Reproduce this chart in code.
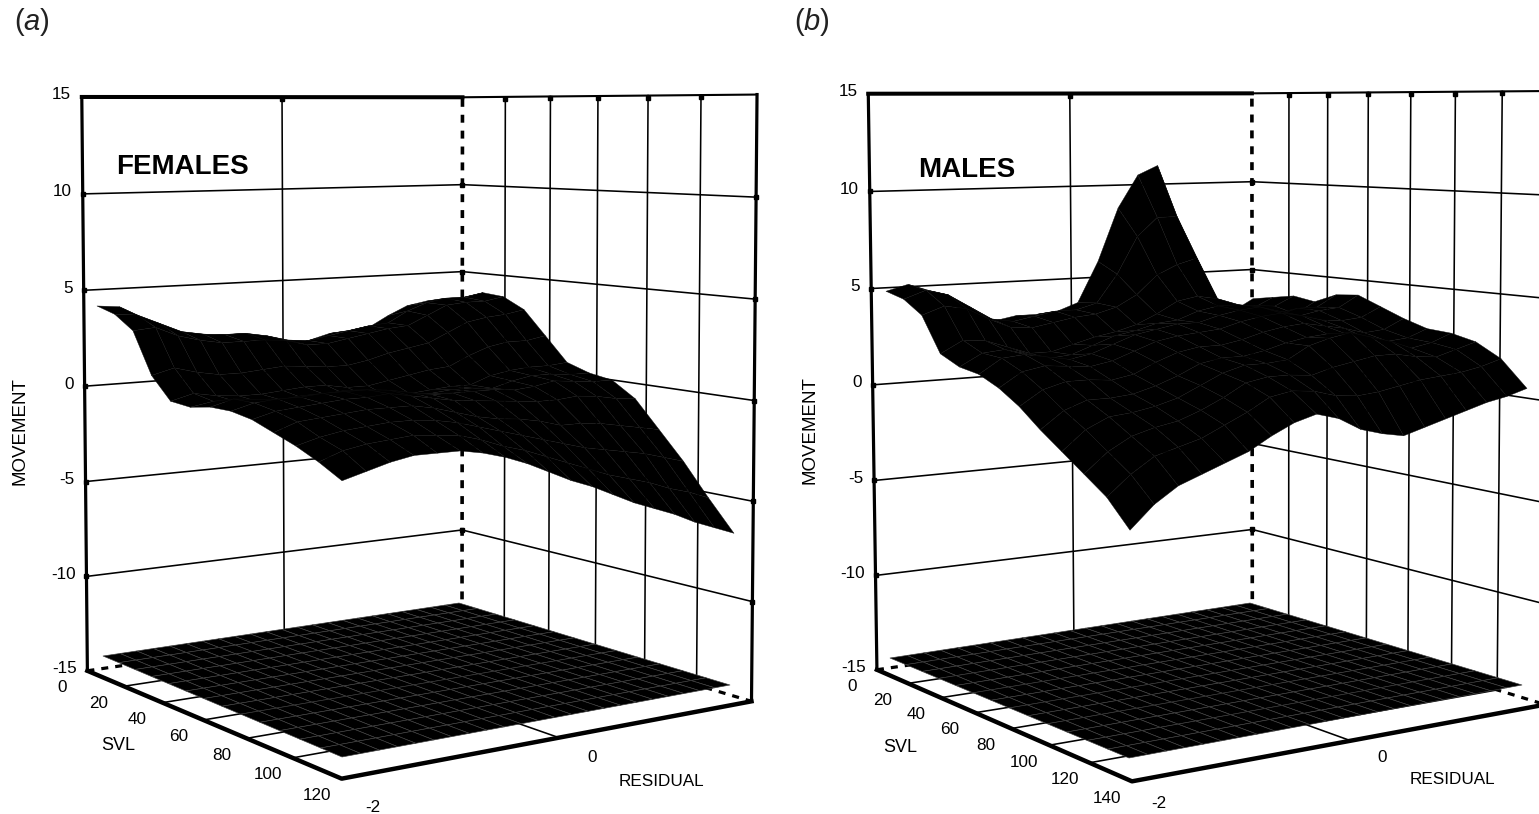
import numpy as np, matplotlib
matplotlib.use("Agg")
import matplotlib.pyplot as plt, seaborn as sns
from matplotlib.collections import PolyCollection

sns.set_style("white")
plt.rcParams['font.family'] = ['Liberation Sans', 'DejaVu Sans']
plt.rcParams['text.color'] = 'black'
plt.rcParams['mathtext.fontset'] = 'custom'
plt.rcParams['mathtext.it'] = 'Liberation Sans:italic'
plt.rcParams['mathtext.rm'] = 'Liberation Sans'

# ---------- chart data ----------
movement_ticks = [15, 10, 5, 0, -5, -10, -15]
svl_ticks_f = [0, 20, 40, 60, 80, 100, 120]
svl_ticks_m = [0, 20, 40, 60, 80, 100, 120, 140]
residual_ticks = [-2, 0]
# rows: SVL from 0 to max; columns: RESIDUAL from -2 to 2
movement_females = np.array([
[3.3,3.2,2.5,1.9,1.6,1.4,1.4,1.1,0.8,0.6,0.8,1.1,1.2,1.3,1.9,2.4,2.6,2.5,2.7],
[3.0,2.9,2.4,1.9,1.7,1.6,1.6,1.4,1.1,1.0,1.2,1.4,1.6,1.7,2.3,2.7,2.9,2.9,3.1],
[2.3,2.4,1.9,1.6,1.4,1.4,1.4,1.3,1.0,1.0,1.2,1.4,1.6,1.7,2.2,2.7,2.8,2.8,3.0],
[0.2,0.5,0.2,-0.0,-0.0,0.1,0.2,0.1,-0.0,-0.0,0.2,0.5,0.7,0.9,1.4,1.9,2.1,2.2,2.4],
[-0.9,-0.6,-0.8,-0.9,-0.9,-0.8,-0.7,-0.7,-0.9,-0.9,-0.7,-0.5,-0.3,-0.2,0.3,0.7,0.9,0.9,1.1],
[-1.0,-0.8,-0.9,-1.0,-1.0,-1.0,-0.9,-1.0,-1.2,-1.3,-1.2,-1.1,-1.0,-1.0,-0.6,-0.4,-0.3,-0.3,-0.2],
[-0.8,-0.5,-0.6,-0.7,-0.6,-0.6,-0.5,-0.7,-0.9,-1.0,-1.0,-0.9,-0.9,-1.0,-0.7,-0.5,-0.5,-0.6,-0.6],
[-0.8,-0.5,-0.4,-0.4,-0.3,-0.3,-0.3,-0.4,-0.6,-0.8,-0.8,-0.8,-0.8,-0.9,-0.8,-0.6,-0.7,-0.8,-0.8],
[-1.0,-0.7,-0.6,-0.5,-0.4,-0.4,-0.3,-0.5,-0.7,-0.9,-1.0,-1.1,-1.2,-1.3,-1.3,-1.2,-1.3,-1.5,-1.6],
[-1.4,-1.0,-0.9,-0.8,-0.7,-0.7,-0.7,-0.9,-1.2,-1.5,-1.7,-1.8,-2.0,-2.3,-2.3,-2.4,-2.6,-2.8,-3.0],
[-1.8,-1.5,-1.3,-1.2,-1.1,-1.1,-1.2,-1.4,-1.7,-2.0,-2.3,-2.6,-2.9,-3.2,-3.4,-3.6,-3.8,-4.1,-4.4],
[-2.3,-1.9,-1.7,-1.6,-1.5,-1.6,-1.7,-2.0,-2.4,-2.7,-3.1,-3.5,-3.9,-4.3,-4.6,-4.9,-5.3,-5.6,-6.0],
[-2.9,-2.6,-2.3,-2.1,-2.1,-2.1,-2.3,-2.6,-3.0,-3.5,-4.0,-4.4,-4.9,-5.4,-5.8,-6.2,-6.7,-7.1,-7.5]])
movement_males = np.array([
[4.1,4.4,4.0,3.2,2.5,2.2,2.4,2.4,2.5,2.9,5.1,8.0,9.8,10.3,7.1,4.5,2.1,1.9,2.5],
[3.8,4.2,3.9,3.2,2.5,2.3,2.5,2.7,2.7,3.0,4.5,6.5,7.5,7.5,4.9,2.7,2.4,2.2,2.7],
[3.1,3.5,3.3,2.7,2.2,2.1,2.3,2.5,2.6,2.9,3.5,4.5,5.0,5.3,2.8,2.3,2.5,2.4,2.9],
[1.3,1.9,1.8,1.4,1.0,1.0,1.3,1.6,1.8,2.1,2.6,3.2,3.4,3.2,2.4,2.0,2.2,2.1,2.7],
[0.8,1.4,1.5,1.2,0.9,1.0,1.4,1.8,2.0,2.3,2.4,2.8,3.0,3.0,2.6,2.3,2.6,2.6,3.2],
[0.6,1.3,1.4,1.2,1.0,1.2,1.6,2.0,2.2,2.4,2.4,2.7,2.9,3.0,2.7,2.4,2.6,2.7,3.3],
[0.1,0.8,1.0,0.9,0.8,1.0,1.4,1.8,2.0,2.1,2.2,2.5,2.7,2.8,2.6,2.3,2.2,2.3,2.8],
[-0.6,0.1,0.4,0.4,0.3,0.5,1.0,1.4,1.6,1.6,1.8,2.1,2.3,2.4,2.2,2.0,1.7,1.8,2.3],
[-1.5,-0.7,-0.3,-0.3,-0.2,0.1,0.5,1.0,1.2,1.2,1.4,1.7,1.9,2.0,1.9,1.6,1.4,1.5,1.9],
[-2.3,-1.4,-0.9,-0.8,-0.6,-0.3,0.2,0.7,1.0,1.0,1.1,1.7,2.0,2.2,1.9,1.6,1.2,1.4,1.8],
[-3.1,-2.2,-1.6,-1.3,-1.1,-0.7,-0.2,0.4,0.6,0.6,0.5,0.8,1.0,1.2,1.2,1.0,0.9,1.2,1.5],
[-3.9,-3.0,-2.3,-2.0,-1.7,-1.2,-0.7,-0.1,0.1,0.0,-0.3,-0.4,-0.3,-0.1,0.1,0.2,0.3,0.5,0.8],
[-5.1,-4.1,-3.4,-3.0,-2.6,-2.2,-1.6,-1.1,-0.8,-1.1,-1.7,-2.0,-2.2,-1.9,-1.6,-1.3,-1.0,-0.8,-0.5]])

# ---------- camera calibration of the two boxes (canvas pixels) ----------
left_a = [(82,97),(83,193),(83,290),(84,387),(85,481),(85,577),(87,671)]
back_a = [(462,97),(462,184),(462,271),(462,359),(462,447),(462,528),(462,616)]
right_a = [(757,95),(757,197),(756,298),(755,400),(754,499),(753,601),(751,702)]
left_b = [(870,93),(871,191),(871,288),(872,385),(873,480),(873,576),(875,671)]
back_b = [(1252,93),(1252,182),(1252,270),(1252,358),(1252,446),(1252,528),(1252,614)]
right_b = [(1552,90),(1551,199),(1551,298),(1550,401),(1549,503),(1548,608),(1546,701)]

def fit_camera(pts):
    A = []
    for s, r, z, x, y in pts:
        X = [s, r, z, 1]
        A.append(X + [0, 0, 0, 0] + [-x * c for c in X])
        A.append([0, 0, 0, 0] + X + [-y * c for c in X])
    A = np.array(A, float)
    n = np.abs(A).max(0)
    _, _, V = np.linalg.svd(A / n)
    return (V[-1] / n).reshape(3, 4)

def proj(P, s, r, z):
    s, r, z = np.broadcast_arrays(np.asarray(s, float), np.asarray(r, float), np.asarray(z, float))
    X = np.stack([s, r, z, np.ones_like(s)], -1) @ P.T
    return X[..., 0] / X[..., 2], X[..., 1] / X[..., 2]

def homog(c):
    A = []; b = []
    for (u, v), (x, y) in zip([(0, 0), (1, 0), (1, 1), (0, 1)], c):
        A.append([u, v, 1, 0, 0, 0, -x * u, -x * v]); b.append(x)
        A.append([0, 0, 0, u, v, 1, -y * u, -y * v]); b.append(y)
    return np.append(np.linalg.solve(np.array(A, float), b), 1).reshape(3, 3)

def happly(H, u, v):
    w = H[2, 0] * u + H[2, 1] * v + 1
    return (H[0, 0] * u + H[0, 1] * v + H[0, 2]) / w, (H[1, 0] * u + H[1, 1] * v + H[1, 2]) / w

pts_a = [(120,-2,-15,337,781), (120,0,-15,557,738), (0,0,15,283,97)]
for t, x in zip([20,40,60,80,100], [505,551,598,648,700]): pts_a.append((t, 2, 15, x, 96.5))
for t, q in zip([20,40,60,80,100], [(123,685),(167,703),(207,720),(248,737),(292,758)]): pts_a.append((t, -2, -15, *q))
for z, a, b, c in zip(movement_ticks, left_a, back_a, right_a):
    pts_a += [(0, -2, z, *a), (0, 2, z, *b), (120, 2, z, *c)]
pts_b = [(140,-2,-15,1128,783), (140,0,-15,1346.5,737), (0,0,15,1071,93)]
for t, x in zip([20,40,60,80,100,120], [1288,1327,1368,1410,1454,1500]): pts_b.append((t, 2, 15, x, 92))
for t, q in zip([20,40,60,80,100,120], [(911.5,684),(944.5,697),(975,713),(1010,729),(1052,745),(1089.5,763)]): pts_b.append((t, -2, -15, *q))
for z, a, b, c in zip(movement_ticks, left_b, back_b, right_b):
    pts_b += [(0, -2, z, *a), (0, 2, z, *b), (140, 2, z, *c)]
cam_a = fit_camera(pts_a)
cam_b = fit_camera(pts_b)

fig = plt.figure(figsize=(15.39, 8.14), dpi=100)
ax = fig.add_axes([0, 0, 1, 1])

def line(X, Y, lw, dash=None, z=1):
    kw = dict(linestyle=(0, dash), dash_capstyle='butt') if dash else dict(solid_capstyle='projecting')
    sns.lineplot(x=np.asarray(X), y=np.asarray(Y), ax=ax, color='k', lw=lw, estimator=None,
                 sort=False, legend=False, zorder=z, **kw)

def quads(x, y):
    n, m = x.shape; out = []
    for i in range(n - 1):
        for j in range(m - 2, -1, -1):
            out.append([(x[i, j], y[i, j]), (x[i + 1, j], y[i + 1, j]),
                        (x[i + 1, j + 1], y[i + 1, j + 1]), (x[i, j + 1], y[i, j + 1])])
    return out

def panel(M, svl_ticks, zz, surf, mesh, lab):
    smax = svl_ticks[-1]
    inner = svl_ticks[1:-1]
    for z in movement_ticks[1:-1]:
        X, Y = proj(M, [0, 0, smax], [-2, 2, 2], [z, z, z]); line(X, Y, 1.15)
    X, Y = proj(M, [0, 0], [-2, 2], [15, 15]); line(X, Y, 2.9)
    X, Y = proj(M, [0, smax], [2, 2], [15, 15]); line(X, Y, 1.5)
    X, Y = proj(M, [0, 0], [-2, -2], [-15, 15]); line(X, Y, 2.3)
    X, Y = proj(M, [smax, smax], [2, 2], [-15, 15]); line(X, Y, 2.3)
    X, Y = proj(M, [0, 0], [2, 2], [-15, 15]); line(X, Y, 2.6, dash=(2.2, 2.2))
    X, Y = proj(M, [0, 0, smax], [-2, 2, 2], [-15, -15, -15]); line(X, Y, 2.3, dash=(2.2, 2.2))
    X, Y = proj(M, [0, smax, smax], [-2, -2, 2], [-15, -15, -15]); line(X, Y, 3.2)
    X, Y = proj(M, [0, 0], [0, 0], [-15, 15]); line(X, Y, 1.15)
    X, Y = proj(M, [0, smax], [0, 0], [-15, -15]); line(X, Y, 1.15)
    for t in inner:
        X, Y = proj(M, [t, t], [2, 2], [-15, 15]); line(X, Y, 1.15)
        X, Y = proj(M, [t, t], [-2, 2], [-15, -15]); line(X, Y, 1.15)
    for z in movement_ticks[1:-1]:
        for s, r in [(0, -2), (0, 2), (smax, 2)]:
            X, Y = proj(M, s, r, z); ax.plot([X], [Y], 's', color='k', ms=3.4, zorder=1)
    for s, r in [(0, 0)] + [(t, 2) for t in inner]:
        X, Y = proj(M, s, r, 15); ax.plot([X], [Y + 2], 's', color='k', ms=3.0, zorder=1)
    # flat floor projection of the surface
    H = homog(mesh)
    u, v = np.meshgrid(np.linspace(0, 1, 14), np.linspace(0, 1, 24), indexing='ij')
    x, y = happly(H, u, v)
    ax.add_collection(PolyCollection(quads(x, y), facecolor='k', edgecolor='#404040', linewidth=0.45, zorder=2))
    # response surface
    H = homog(surf)
    u, v = np.meshgrid(np.linspace(0, 1, zz.shape[0]), np.linspace(0, 1, zz.shape[1]), indexing='ij')
    x, y0 = happly(H, u, v)
    _, ya = proj(M, u * smax, -2 + 4 * v, -15)
    _, yb = proj(M, u * smax, -2 + 4 * v, 15)
    y = y0 - (zz + 15) * (ya - yb) / 30
    ax.add_collection(PolyCollection(quads(x, y), facecolor='k', edgecolor='#0e0e0e', linewidth=0.3, zorder=3))
    for z in movement_ticks:
        X, Y = proj(M, 0, -2, z)
        ax.text(X - 11, Y - 2, str(z), ha='right', va='center', fontsize=12.3)
    for t in svl_ticks:
        X, Y = proj(M, t, -2, -15)
        ax.text(X - 25, Y + 17, str(t), ha='center', va='center', fontsize=12.3)
    T = dict(ha='center', va='center', fontsize=12.3)
    ax.text(*lab['m2'], str(residual_ticks[0]), **T)
    ax.text(*lab['zero'], str(residual_ticks[1]), **T)
    ax.text(*lab['res'], 'RESIDUAL', ha='center', va='center', fontsize=12.3)
    ax.text(*lab['svl'], 'SVL', ha='center', va='center', fontsize=13)
    ax.text(*lab['mov'], 'MOVEMENT', ha='center', va='center', fontsize=13.5, rotation=90)
    ax.text(*lab['t'], lab['title'], ha='center', va='center', fontsize=20, fontweight='bold')
    ax.text(*lab['p'], lab['tag'], ha='left', va='center', fontsize=21, color='#222222')

panel(cam_a, svl_ticks_f, movement_females, [(97,656),(342,757),(734,685),(463,603)],
      [(103,656),(342,757),(730,685),(459,603)],
      dict(m2=(373,808), zero=(592,758), res=(661,781), svl=(118,746), mov=(20,431), t=(183,167),
           title='FEMALES', p=(14,22), tag=r'($\mathit{a}$)'))
panel(cam_b, svl_ticks_m, movement_males, [(886,658),(1130,758),(1527,685),(1253,603)],
      [(890,658),(1129,758),(1522,685),(1250,603)],
      dict(m2=(1159,803), zero=(1382.5,757), res=(1452,779), svl=(900.5,747), mov=(810,430), t=(967,170),
           title='MALES', p=(794,22), tag=r'($\mathit{b}$)'))
ax.set_xlim(0, 1539); ax.set_ylim(814, 0); ax.axis('off')
fig.savefig('out.png', dpi=100)
